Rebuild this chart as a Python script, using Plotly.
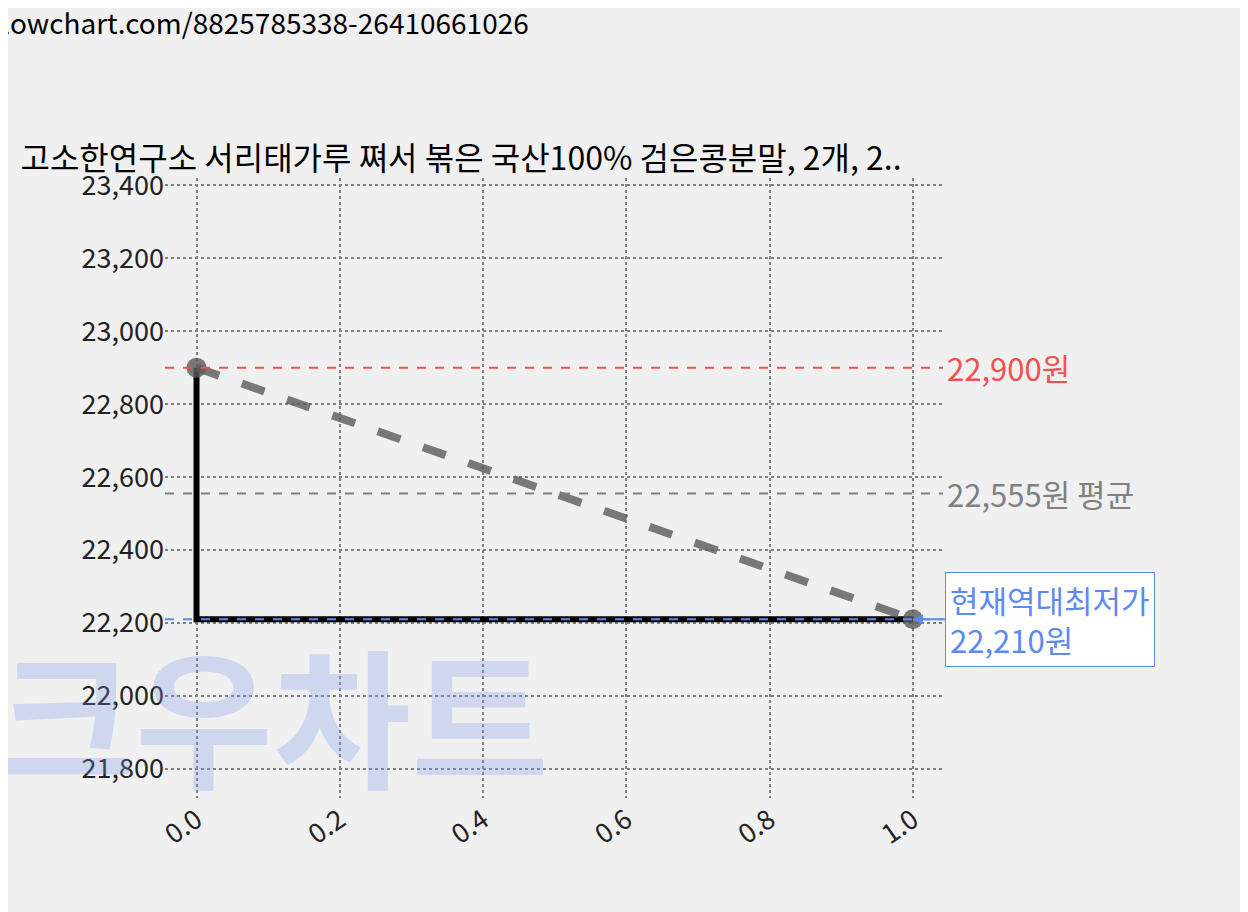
import plotly.graph_objects as go

x_vals = [0.0, 1.0]
prices = [22900, 22210]
max_price = 22900
avg_price = 22555
min_price = 22210
title = "고소한연구소 서리태가루 쪄서 볶은 국산100% 검은콩분말, 2개, 2.."
url = "lowchart.com/8825785338-26410661026"
y_ticks = [21800, 22000, 22200, 22400, 22600, 22800, 23000, 23200, 23400]
x_ticks = [0.0, 0.2, 0.4, 0.6, 0.8, 1.0]

font = "Noto Sans CJK KR"
fig = go.Figure()

# watermark first so it sits under everything
fig.add_annotation(x=0.0, xref="paper", y=0.14, yref="paper", text="<b>크우차트</b>",
                   showarrow=False, xanchor="left", yanchor="middle", xshift=-170,
                   font=dict(family=font, size=150, color="rgba(120,150,230,0.28)"))

# step line (black)
fig.add_trace(go.Scatter(x=x_vals, y=prices, mode="lines", line_shape="vh",
                         line=dict(color="black", width=6), showlegend=False))
# dashed trend line with markers
fig.add_trace(go.Scatter(x=x_vals, y=prices, mode="lines+markers",
                         line=dict(color="rgba(90,90,90,0.8)", width=8, dash="dash"),
                         marker=dict(size=20, color="rgba(90,90,90,0.8)"),
                         showlegend=False))

fig.add_hline(y=max_price, line=dict(color="#f05050", width=2, dash="dash"))
fig.add_hline(y=avg_price, line=dict(color="gray", width=2, dash="dash"))
fig.add_hline(y=min_price, line=dict(color="#5b8af0", width=2, dash="dash"))

fig.add_annotation(x=1, xref="paper", y=max_price, text=f"{max_price:,}원",
                   showarrow=False, xanchor="left", xshift=2,
                   font=dict(family=font, size=31, color="#f05050"))
fig.add_annotation(x=1, xref="paper", y=avg_price, text=f"{avg_price:,}원 평균",
                   showarrow=False, xanchor="left", xshift=2,
                   font=dict(family=font, size=31, color="gray"))
fig.add_annotation(x=1, y=min_price, text=f"현재역대최저가<br>{min_price:,}원",
                   showarrow=True, arrowhead=2, arrowcolor="#5b8af0", arrowwidth=2,
                   ax=32, ay=0, xanchor="left", align="left",
                   bgcolor="white", bordercolor="#5b8af0", borderwidth=1, borderpad=4,
                   font=dict(family=font, size=31, color="#5b8af0"))

fig.add_annotation(x=0, xref="paper", y=1, yref="paper", text=url, showarrow=False,
                   xanchor="left", yanchor="top", xshift=-165, yshift=178,
                   font=dict(family=font, size=28, color="black"))

fig.update_layout(
    width=1248, height=912,
    paper_bgcolor="#f0f0f0", plot_bgcolor="rgba(0,0,0,0)",
    margin=dict(l=157, r=313, t=170, b=122),
    title=dict(text=title, x=0.01, xanchor="left", y=0.835, yanchor="middle",
               font=dict(family=font, size=32, color="black")),
    font=dict(family=font, size=27, color="#222"),
)
fig.update_xaxes(range=[-0.044, 1.042], tickvals=x_ticks, ticktext=[f"{v:.1f}" for v in x_ticks],
                 tickangle=-35, showgrid=True, gridcolor="gray", griddash="dot", gridwidth=2,
                 zeroline=False, showline=False, layer="below traces")
fig.update_yaxes(range=[21720, 23420], tickvals=y_ticks, ticktext=[f"{v:,}" for v in y_ticks],
                 showgrid=True, gridcolor="gray", griddash="dot", gridwidth=2,
                 zeroline=False, showline=False)

fig.write_html("out.html")
